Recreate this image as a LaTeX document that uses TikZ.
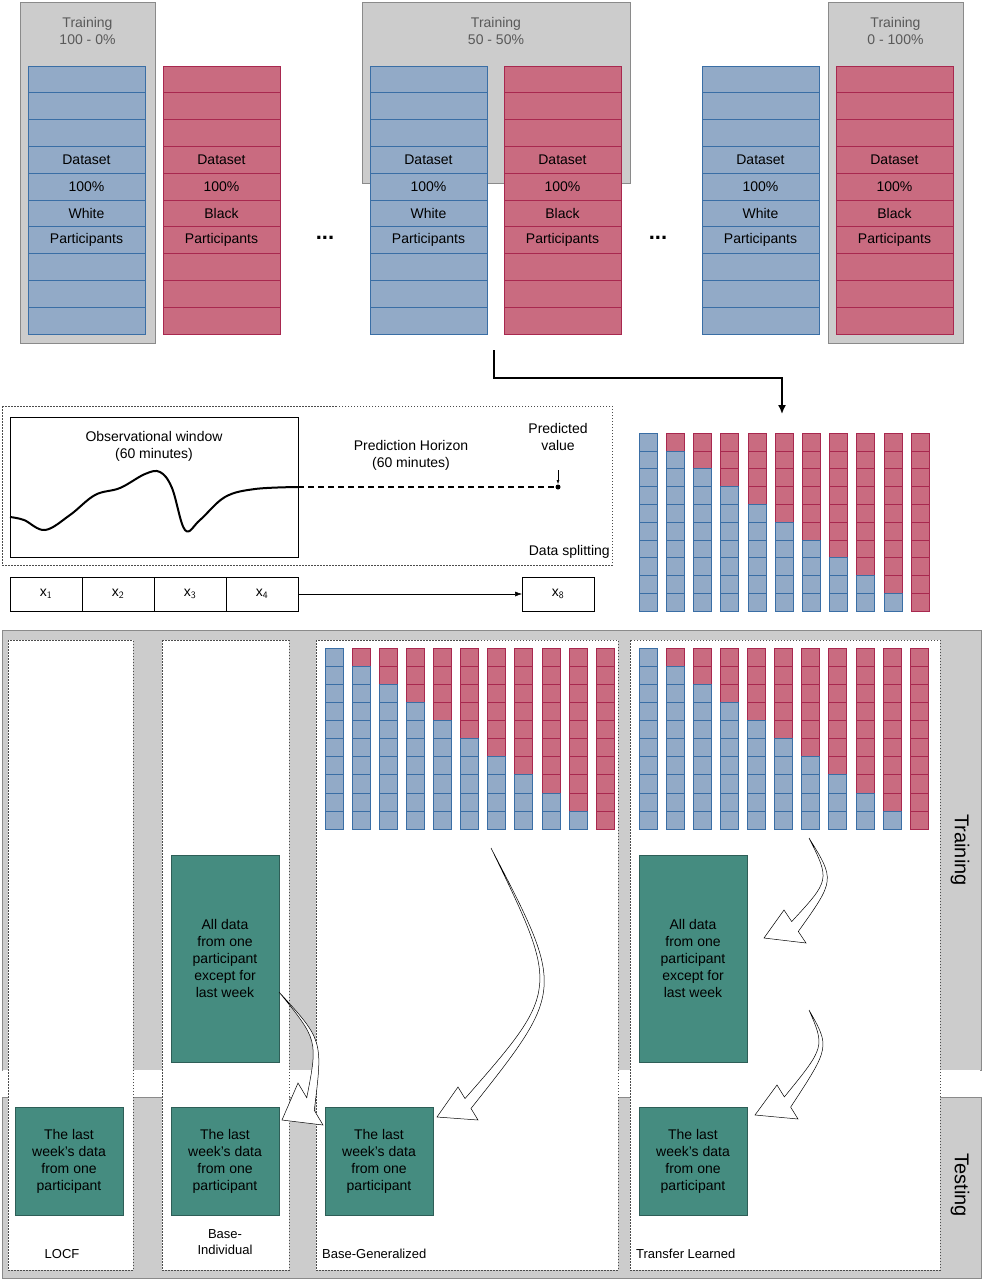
\documentclass[tikz,border=0pt]{standalone}
\usepackage{fontspec}
\setmainfont{Liberation Sans}
\usetikzlibrary{calc,arrows.meta}
\definecolor{bluef}{HTML}{92AAC7}
\definecolor{blued}{HTML}{3A6EA5}
\definecolor{redf}{HTML}{C96B80}
\definecolor{redd}{HTML}{A8284F}
\definecolor{grayf}{HTML}{CCCCCC}
\definecolor{grayd}{HTML}{8A8A8A}
\definecolor{teal}{HTML}{458C80}
\definecolor{teald}{HTML}{2E5E57}
\newcommand\tallcol[4]{% x, y, fill, draw
  \foreach \r in {0,...,9}{\draw[fill=#3,draw=#4,line width=0.7pt] (#1,{#2+\r*26.8}) rectangle ++(117,26.8);}}
\newcommand\stackk[4]{% x0 y0 dx rowh
  \foreach \k in {0,...,10}{\foreach \r in {0,...,9}{%
    \ifnum\r<\k\relax\def\cf{redf}\def\cd{redd}\else\def\cf{bluef}\def\cd{blued}\fi
    \draw[fill=\cf,draw=\cd,line width=0.6pt] ({#1+\k*#3},{#2+\r*#4}) rectangle ++(18,#4);}}}
\newcommand\blockarr[5]{%
  \draw[fill=white,line width=0.5pt] (#1) .. controls (#2) .. ($(#3)!0.35!(#5)$) -- (#3) -- (#4) -- (#5) -- ($(#3)!0.65!(#5)$) .. controls ($(#2)+(5,0)$) .. (#1) -- cycle;}
\begin{document}
\begin{tikzpicture}[x=1pt,y=-1pt,
  lbl/.style={font=\fontsize{14}{17}\selectfont,align=center,inner sep=0pt},
  glbl/.style={font=\fontsize{14}{17}\selectfont,align=center,text=black!65},
  gbox/.style={fill=grayf,draw=grayd,line width=0.8pt},
  green/.style={fill=teal,draw=teald,line width=0.8pt,font=\fontsize{14}{17}\selectfont,align=center,inner sep=0pt},
  panel/.style={fill=white,draw=black!70,dash pattern=on 1.5pt off 1.5pt,line width=0.6pt}]
\useasboundingbox (0,0) rectangle (983,1280);
% top
\draw[gbox] (20,2) rectangle (155,343);
\draw[gbox] (362,2) rectangle (630,183);
\draw[gbox] (828,2) rectangle (963,343);
\node[glbl] (t1) at (87.5,31) {Training\\100 - 0\%};
\node[glbl] (t2) at (496,31) {Training\\50 - 50\%};
\node[glbl] (t3) at (895.5,31) {Training\\0 - 100\%};
\foreach \x/\c/\d/\w in {28/bluef/blued/White,163/redf/redd/Black,370/bluef/blued/White,504/redf/redd/Black,702/bluef/blued/White,836/redf/redd/Black}{
  \tallcol{\x}{66}{\c}{\d}
  \foreach \i/\s in {3/Dataset,4/100\%,5/\w,6/Participants}{
    \node[lbl] at ({\x+58.5},{66+26.8*(\i+0.5)}) {\s};}}
\node[lbl,font=\fontsize{22}{22}\selectfont\bfseries] (d1) at (325,238) {...};
\node[lbl,font=\fontsize{22}{22}\selectfont\bfseries] (d2) at (658,238) {...};
\coordinate (a0) at (494,350);
\coordinate (a1) at (782,414);
\draw[line width=1.6pt,-{Latex[length=9pt,width=8pt]}] (a0) |- (782,378) -- (a1);
% middle
\draw[black!70,dash pattern=on 1.5pt off 1.5pt,line width=0.6pt] (2,406) rectangle (612,565);
\draw[line width=0.8pt] (10,417) rectangle (298,557);
\node[lbl] (ow) at (154,446) {Observational window\\(60 minutes)};
\draw[line width=2pt] plot[smooth,tension=0.6] coordinates {(10,517) (24,520) (45,530) (70,515) (95,495) (120,488) (145,474) (160,472) (172,488) (185,530) (200,520) (225,497) (255,489) (298,487)};
\draw[line width=2pt,dash pattern=on 6pt off 4pt] (298,487) -- (558,487);
\fill (558,487) circle (2.5pt);
\node[lbl] (ph) at (411,455) {Prediction Horizon\\(60 minutes)};
\node[lbl] (pv) at (558,437) {Predicted\\value};
\draw[-{Latex[length=4pt,width=3pt]},line width=0.5pt] (558,470) -- (558,484);
\node[lbl,anchor=east] (ds) at (610,552) {Data splitting};
\foreach \i/\s in {0/1,1/2,2/3,3/4}{
  \draw[line width=0.8pt] ({10+72*\i},577) rectangle ++(72,34);
  \node[lbl] (x\s) at ({46+72*\i},594) {x$_{\mathsf{\s}}$};}
\draw[line width=0.8pt] (522,577) rectangle (594,611);
\node[lbl] (x8) at (558,594) {x$_{\mathsf 8}$};
\draw[-{Latex[length=7pt,width=5pt]},line width=0.5pt] (298,594) -- (522,594);
\stackk{639}{433}{27.2}{17.8}
% bottom
\draw[gbox] (2,630) rectangle (981,1070);
\draw[gbox] (2,1097) rectangle (981,1278);
\fill[white] (3,1070) rectangle (980,1097);
\draw[panel] (8,640) rectangle (133,1270);
\draw[panel] (162,640) rectangle (289,1270);
\draw[panel] (316,640) rectangle (618,1270);
\draw[panel] (630,640) rectangle (940,1270);
\node[font=\fontsize{20}{20}\selectfont,rotate=-90] (tr) at (960,850) {Training};
\node[font=\fontsize{20}{20}\selectfont,rotate=-90] (te) at (960,1185) {Testing};
\stackk{325}{648}{27.1}{18.1}
\stackk{639}{648}{27.1}{18.1}
\node[green,minimum width=108pt,minimum height=207pt] (bi1) at (225,958.5) {All data\\from one\\participant\\except for\\last week};
\node[green,minimum width=108pt,minimum height=207pt] (tl1) at (693,958.5) {All data\\from one\\participant\\except for\\last week};
\foreach \n/\x in {lo/69,bi2/225,bg/379,tl2/693}{
  \node[green,minimum width=108pt,minimum height=108pt] (\n) at (\x,1161) {The last\\week's data\\from one\\participant};}
\node[lbl,font=\fontsize{13}{16}\selectfont] (l1) at (62,1254) {LOCF};
\node[lbl,font=\fontsize{13}{16}\selectfont] (l2) at (225,1242) {Base-\\Individual};
\node[lbl,font=\fontsize{13}{16}\selectfont,anchor=west] (l3) at (322,1254) {Base-Generalized};
\node[lbl,font=\fontsize{13}{16}\selectfont,anchor=west] (l4) at (636,1254) {Transfer Learned};
% block arrows
\blockarr{279,992}{318,1040}{298,1083}{282,1120}{323,1125}
\blockarr{491,848}{560,990}{458,1087}{437,1117}{478,1120}
\blockarr{809,838}{830,880}{784,910}{764,938}{806,943}
\blockarr{809,1010}{825,1047}{777,1085}{755,1115}{798,1119}
\end{tikzpicture}
\end{document}
